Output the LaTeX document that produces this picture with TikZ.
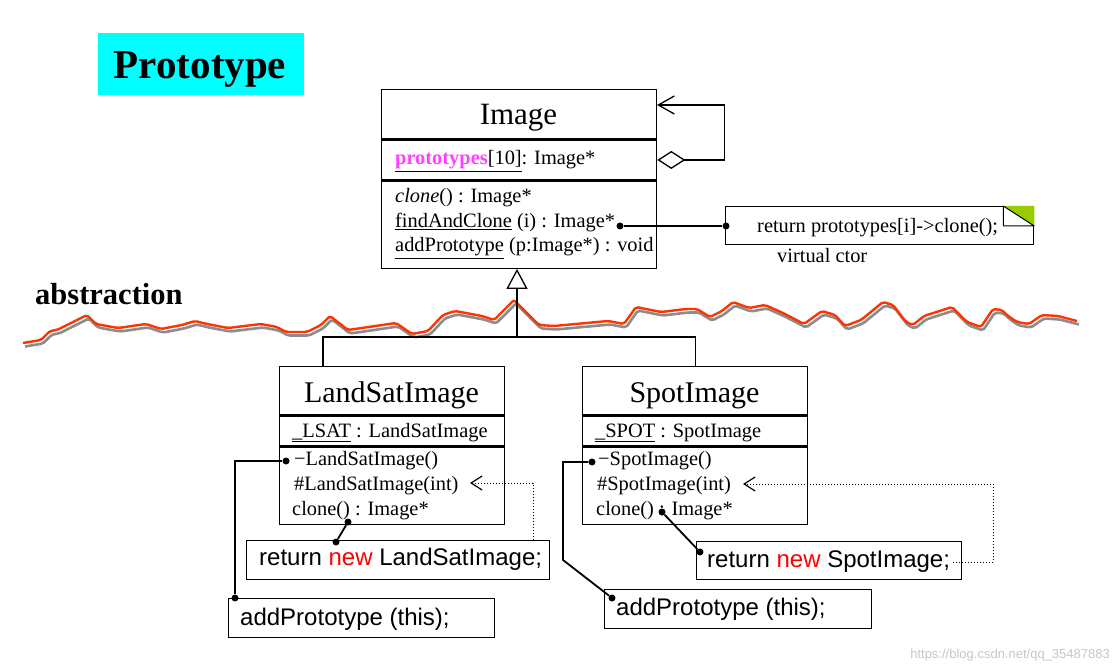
\documentclass[tikz,border=0pt]{standalone}
\usepackage{fontspec}
\setmainfont{Liberation Serif}
\setsansfont{Liberation Sans}
\usetikzlibrary{positioning,arrows.meta}
\definecolor{protomag}{RGB}{255,64,255}
\definecolor{titlecyan}{RGB}{0,255,255}
\definecolor{foldgreen}{RGB}{153,204,0}
\definecolor{ridgered}{RGB}{255,51,0}

\begin{document}
\begin{tikzpicture}[x=1pt,y=-1pt,
  comp/.style={draw,line width=1.3pt,minimum width=#1,anchor=north west,inner sep=0pt},
  cname/.style={anchor=base,inner sep=0pt,font=\fontsize{30}{32}\selectfont},
  mem/.style={anchor=base west,inner sep=0pt,font=\fontsize{20.4}{22}\selectfont},
  codetxt/.style={anchor=base west,inner sep=0pt,font=\sffamily\fontsize{24}{26}\selectfont},
  dot/.style={circle,fill,inner sep=0pt,minimum size=7pt},
  link/.style={line width=1.8pt},
  dep/.style={dotted,line width=1pt,-{Straight Barb[length=11pt,width=14pt,line width=1.2pt]}}]
\useasboundingbox (0,0) rectangle (1120,671);

% title
\node[comp=206,draw=none,fill=titlecyan,minimum height=62] (title) at (97,32) {};
\node[anchor=base,inner sep=0pt,font=\bfseries\fontsize{41}{44}\selectfont] (titleT) at (200,79) {Prototype};

% abstraction line
\node[anchor=base west,inner sep=0pt,font=\bfseries\fontsize{30.5}{32}\selectfont] (abst) at (35,305) {abstraction};
\draw[ridgered,line width=2.4pt,line join=round,rounded corners=2pt,
  preaction={draw=gray!90,line width=2.6pt,transform canvas={shift={(2pt,-3.5pt)}}}]
  (23,343) -- (41,340) -- (50,331) -- (57,330) -- (71,323) -- (87,315) -- (96,324) -- (118,328)
  -- (146,324) -- (161,329) -- (182,325) -- (195,321) -- (207,324) -- (228,328) -- (261,324)
  -- (277,327) -- (286,332) -- (307,332) -- (321,325) -- (330,316) -- (348,330) -- (396,323)
  -- (412,334) -- (428,331) -- (443,315) -- (455,311) -- (482,316) -- (494,320) -- (514,300)
  -- (539,325) -- (554,326) -- (608,321) -- (624,324) -- (636,307) -- (661,312) -- (686,309)
  -- (697,309) -- (710,317) -- (722,311) -- (733,302) -- (749,308) -- (765,305) -- (783,313)
  -- (804,324) -- (822,311) -- (835,315) -- (845,326) -- (861,320) -- (883,302) -- (893,305)
  -- (906,322) -- (913,325) -- (924,316) -- (952,307) -- (967,322) -- (981,327) -- (993,309)
  -- (1002,310) -- (1008,316) -- (1017,322) -- (1029,324) -- (1042,315) -- (1058,316) -- (1077,321);

% class Image
\node[comp=275,minimum height=49] (imgT) at (381,89) {};
\node[comp=275,minimum height=40] (imgA) at (imgT.south west) {};
\node[comp=275,minimum height=87] (imgM) at (imgA.south west) {};
\node[cname,font=\fontsize{31}{33}\selectfont] (imgN) at (518.5,125) {Image};
\node[mem] (imgProto) at (395,165) {\underline{\textbf{\textcolor{protomag}{prototypes}}[10]}: Image*};
\node[mem] (imgClone) at (395,203) {\textit{clone}() : Image*};
\node[mem] (imgFind) at (395,228) {\underline{findAndClone} (i) : Image*};
\node[mem] (imgAdd) at (395,252) {\underline{addPrototype} (p:Image*) : void};
\coordinate (selfIn) at (657,105);
\draw[line width=1.3pt,{Diamond[open,length=28pt,width=18pt]}-{Straight Barb[length=16pt,width=18pt]}]
  (imgA.east) -- ++(67,0) |- (selfIn);

% note
\node[comp=308,minimum height=38] (note) at (725,206) {};
\fill[foldgreen] (note.north east) -- ++(0,20) -- ++(-31,-20) -- cycle;
\draw[line width=1pt] ([xshift=-31pt]note.north east) -- ++(0,20) -- ++(31,0)
  ([xshift=-31pt]note.north east) -- ++(31,20);
\node[mem] (noteT) at (757,233) {return prototypes[i]->clone();};
\node[mem] (ctor) at (777,263) {virtual ctor};
\node[dot] (findDot) at (620,226) {};
\node[dot] (noteDot) at (726,226) {};
\draw[link] (findDot) -- (noteDot);

% class LandSatImage
\node[comp=225,minimum height=48] (lsT) at (279,366) {};
\node[comp=225,minimum height=30] (lsA) at (lsT.south west) {};
\node[comp=225,minimum height=77] (lsM) at (lsA.south west) {};
\node[cname] (lsN) at (391.5,402) {LandSatImage};
\node[mem] (lsInst) at (292,437) {\underline{\_LSAT} : LandSatImage};
\node[mem] (lsCtor) at (294,465) {−LandSatImage()};
\node[mem] (lsCtorI) at (294,490) {\#LandSatImage(int)};
\node[mem] (lsClone) at (292,515) {clone() : Image*};

% class SpotImage
\node[comp=225,minimum height=48] (spT) at (582,366) {};
\node[comp=225,minimum height=30] (spA) at (spT.south west) {};
\node[comp=225,minimum height=77] (spM) at (spA.south west) {};
\node[cname] (spN) at (694.5,402) {SpotImage};
\node[mem] (spInst) at (595,437) {\underline{\_SPOT} : SpotImage};
\node[mem] (spCtor) at (598,465) {−SpotImage()};
\node[mem] (spCtorI) at (597,490) {\#SpotImage(int)};
\node[mem] (spClone) at (596,515) {clone() : Image*};

% inheritance
\coordinate (gen) at (517,337);
\coordinate (lsTop) at (323,366);
\draw[line width=1.3pt] (lsTop) -- (lsTop |- gen) -| (spT.north);
\draw[line width=1.3pt,-{Triangle[open,length=20pt,width=21pt]}] (gen) -- (gen |- imgM.south);

% code boxes
\node[comp=303,minimum height=39] (lsRet) at (246,540) {};
\node[codetxt] (lsRetT) at (259,565) {return \textcolor{red}{new} LandSatImage;};
\node[comp=266,minimum height=39] (lsAdd) at (228,598) {};
\node[codetxt] (lsAddT) at (240,625) {addPrototype (this);};
\node[comp=265,minimum height=38] (spRet) at (696,541) {};
\node[codetxt] (spRetT) at (707,567) {return \textcolor{red}{new} SpotImage;};
\node[comp=267,minimum height=39] (spAdd) at (604,589) {};
\node[codetxt] (spAddT) at (616,615) {addPrototype (this);};

% LandSat links
\node[dot] (lsCtorDot) at (286,461) {};
\node[dot] (lsAddDot) at (235,598) {};
\draw[link] (lsCtorDot) -| (lsAddDot);
\node[dot] (lsCloneDot) at (348,522) {};
\node[dot] (lsRetDot) at (336,542) {};
\draw[link] (lsCloneDot) -- (lsRetDot);
\coordinate (lsUse) at (533,540);
\coordinate (lsTip) at (470,483);
\draw[dep] (lsUse) |- (lsTip);

% Spot links
\node[dot] (spCtorDot) at (592,462) {};
\node[dot] (spAddDot) at (612,598) {};
\draw[link] (spCtorDot) -- ++(-29,0) -- ++(0,98) -- (spAddDot);
\node[dot] (spCloneDot) at (662,512) {};
\node[dot] (spRetDot) at (700,552) {};
\draw[link] (spCloneDot) -- (spRetDot);
\coordinate (spUse) at (953,562);
\coordinate (spTip) at (743,484);
\draw[dep] (spUse) -- ++(40,0) |- (spTip);

\node[anchor=base east,inner sep=0pt,text=gray!45,font=\sffamily\fontsize{13}{14}\selectfont] (wm) at (1110,658) {https://blog.csdn.net/qq\_35487883};
\end{tikzpicture}
\end{document}
